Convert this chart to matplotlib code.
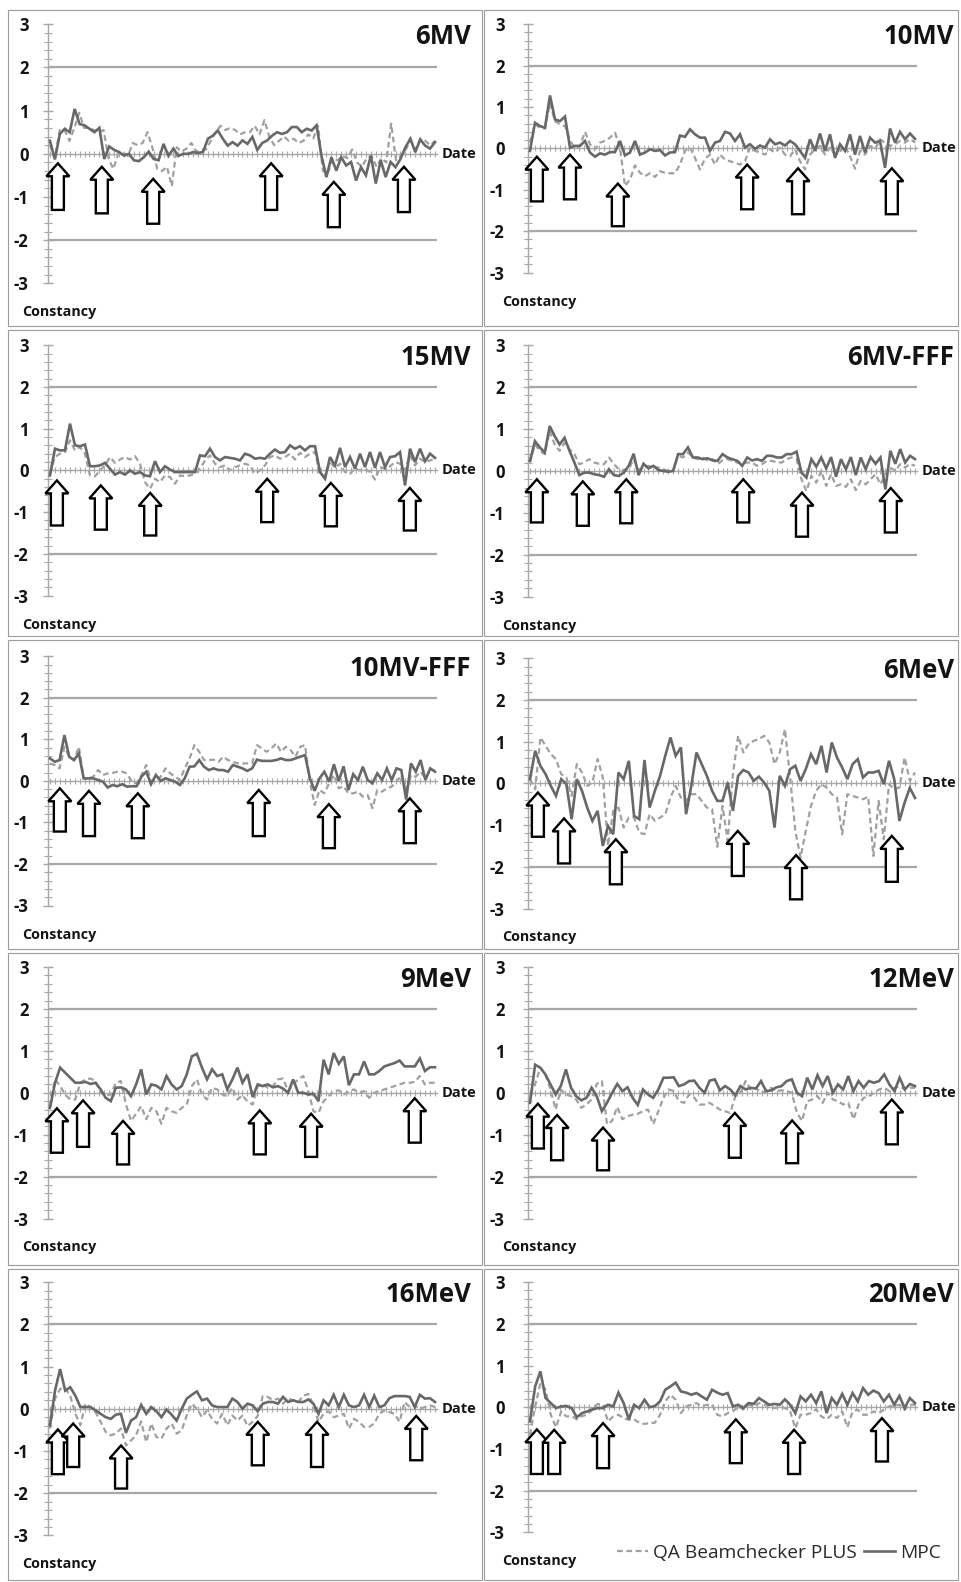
import numpy as np
import matplotlib
matplotlib.use("Agg")
import matplotlib.pyplot as plt
from matplotlib.patches import Polygon, Rectangle
from matplotlib.ticker import MultipleLocator

plt.rcParams['font.family'] = ['Open Sans', 'DejaVu Sans']

# ---------------- data ----------------
titles = ["6MV", "10MV", "15MV", "6MV-FFF", "10MV-FFF", "6MeV", "9MeV", "12MeV", "16MeV", "20MeV"]
legend_labels = ["QA Beamchecker PLUS", "MPC"]
y_ticks = [-3, -2, -1, 0, 1, 2, 3]
limit_lines = [2, -2]
n_dates = 79

mpc_6MV = [0.30, -0.13, 0.46, 0.58, 0.50, 1.04, 0.69, 0.66, 0.58, 0.50, 0.60, -0.12, 0.17, 0.09, 0.04, -0.04, 0.00, -0.15, -0.17, -0.08,
           0.05, -0.12, -0.15, 0.23, -0.05, 0.12, -0.05, 0.00, 0.00, 0.04, 0.02, 0.04, 0.35, 0.42, 0.54, 0.35, 0.19, 0.27, 0.19, 0.31,
           0.23, 0.39, 0.09, 0.25, 0.31, 0.42, 0.50, 0.46, 0.50, 0.62, 0.62, 0.50, 0.58, 0.54, 0.66, -0.05, -0.54, -0.08, -0.39, -0.08,
           -0.27, -0.19, -0.62, -0.31, -0.50, -0.04, -0.69, -0.15, -0.54, -0.19, -0.31, -0.12, 0.15, 0.35, 0.04, 0.33, 0.19, 0.12, 0.27]
qa_6MV = [0.20, -0.10, 0.55, 0.55, 0.30, 0.60, 0.95, 0.60, 0.60, 0.55, 0.50, 0.55, -0.10, -0.35, 0.00, 0.02, -0.05, 0.25, 0.20, 0.25,
          0.50, 0.15, -0.35, -0.40, -0.30, -0.75, 0.15, 0.05, 0.12, 0.25, 0.05, 0.10, 0.10, 0.30, 0.50, 0.65, 0.55, 0.60, 0.55, 0.45,
          0.50, 0.50, 0.65, 0.45, 0.78, 0.40, 0.20, 0.30, 0.40, 0.30, 0.35, 0.25, 0.30, 0.45, 0.35, 0.65, -0.40, -0.45, -0.10, -0.15,
          -0.05, -0.10, 0.10, -0.20, -0.30, -0.10, -0.05, -0.30, -0.10, -0.20, 0.70, -0.15, -0.05, 0.10, 0.30, 0.10, 0.35, 0.30, 0.20, 0.30]

mpc_10MV = [-0.06, 0.62, 0.54, 0.50, 1.28, 0.70, 0.66, 0.77, 0.02, 0.06, 0.06, 0.18, -0.10, -0.20, -0.12, -0.15, -0.09, -0.09, 0.18, -0.17,
            -0.10, 0.18, -0.15, -0.10, -0.02, -0.06, -0.04, -0.17, -0.10, -0.09, 0.31, 0.28, 0.46, 0.34, 0.26, 0.26, -0.06, 0.14, 0.18, 0.40,
            0.36, 0.18, 0.34, 0.02, 0.10, -0.01, 0.07, 0.02, 0.22, 0.10, 0.14, 0.07, 0.18, 0.10, -0.06, -0.23, 0.22, -0.06, 0.36, -0.06,
            0.34, -0.23, 0.10, -0.06, 0.34, -0.15, 0.30, -0.10, 0.26, 0.14, 0.18, -0.47, 0.48, 0.14, 0.40, 0.22, 0.36, 0.23]
qa_10MV = [0.14, 0.58, 0.50, 0.48, 1.10, 0.66, 0.58, 0.54, 0.18, 0.02, 0.06, 0.40, 0.10, -0.02, 0.14, 0.18, 0.26, 0.38, 0.02, -0.91,
           -0.75, -0.41, -0.59, -0.67, -0.60, -0.69, -0.55, -0.59, -0.60, -0.60, -0.39, -0.06, 0.02, -0.23, -0.51, -0.25, -0.15, -0.39, -0.15, -0.27,
           -0.31, -0.35, -0.39, -0.31, 0.02, -0.06, -0.10, -0.15, -0.02, -0.10, 0.02, -0.15, -0.19, -0.02, -0.31, -0.51, -0.15, -0.02, 0.06, -0.15,
           0.02, -0.15, -0.06, 0.06, -0.19, -0.49, -0.06, -0.15, 0.06, -0.02, 0.22, 0.14, 0.06, 0.10, 0.18, 0.14, 0.23, 0.14]

mpc_15MV = [-0.12, 0.52, 0.48, 0.48, 1.12, 0.60, 0.58, 0.62, 0.10, 0.10, 0.12, 0.18, 0.04, -0.10, -0.04, -0.10, 0.00, -0.08, -0.04, -0.12,
            -0.14, 0.22, -0.04, 0.10, 0.02, -0.04, -0.04, -0.04, -0.04, -0.04, 0.36, 0.34, 0.52, 0.32, 0.24, 0.32, 0.30, 0.28, 0.24, 0.40,
            0.36, 0.28, 0.30, 0.28, 0.40, 0.50, 0.42, 0.44, 0.60, 0.52, 0.58, 0.48, 0.58, 0.58, -0.04, -0.20, 0.32, 0.12, 0.54, 0.08,
            0.32, 0.04, 0.40, 0.08, 0.44, 0.06, 0.44, 0.08, 0.32, 0.34, 0.44, -0.36, 0.52, 0.20, 0.52, 0.22, 0.40, 0.30]
qa_15MV = [-0.08, 0.32, 0.40, 0.44, 0.72, 0.48, 0.56, 0.40, -0.12, -0.14, 0.00, 0.12, 0.32, 0.18, 0.26, 0.32, 0.26, 0.34, 0.16, -0.28,
           -0.44, -0.20, -0.28, -0.12, -0.16, -0.32, -0.12, -0.14, -0.12, -0.08, 0.04, 0.24, 0.36, 0.16, 0.08, 0.12, 0.00, 0.08, 0.12, 0.16,
           0.12, -0.08, 0.00, 0.12, 0.32, 0.36, 0.28, 0.32, 0.40, 0.26, 0.42, 0.32, 0.40, 0.44, -0.10, -0.14, 0.20, 0.06, 0.16, -0.04,
           -0.08, 0.04, 0.00, 0.04, -0.04, -0.22, 0.08, 0.04, 0.10, 0.20, 0.16, 0.00, 0.36, 0.12, 0.28, 0.20, 0.24, 0.28]

mpc_6MVFFF = [0.24, 0.71, 0.56, 0.44, 1.07, 0.83, 0.63, 0.79, 0.48, 0.20, -0.10, -0.04, -0.04, -0.08, -0.10, -0.14, 0.04, -0.10, -0.12, -0.04,
              0.12, 0.41, -0.10, 0.17, 0.06, 0.12, 0.02, 0.00, -0.02, 0.00, 0.40, 0.40, 0.56, 0.32, 0.32, 0.28, 0.30, 0.25, 0.24, 0.40,
              0.32, 0.28, 0.24, 0.12, 0.32, 0.25, 0.28, 0.24, 0.36, 0.36, 0.32, 0.32, 0.40, 0.40, 0.46, -0.04, -0.16, 0.28, 0.10, 0.32,
              0.06, 0.33, -0.14, 0.28, 0.04, 0.33, -0.10, 0.32, 0.04, 0.33, 0.17, 0.32, -0.44, 0.48, 0.17, 0.52, 0.20, 0.36, 0.28]
qa_6MVFFF = [0.20, 0.63, 0.48, 0.40, 0.95, 0.63, 0.48, 0.67, 0.52, 0.40, 0.16, 0.20, 0.28, 0.20, 0.17, 0.16, 0.32, 0.16, 0.04, 0.02,
             0.04, 0.28, 0.02, 0.08, 0.12, 0.10, 0.08, 0.04, 0.00, 0.00, 0.36, 0.32, 0.44, 0.32, 0.28, 0.32, 0.25, 0.28, 0.16, 0.25,
             0.28, 0.24, 0.20, 0.17, 0.20, 0.20, 0.12, 0.16, 0.24, 0.24, 0.20, 0.20, 0.28, 0.32, 0.28, -0.20, -0.48, -0.12, -0.28, 0.00,
             -0.36, -0.08, -0.36, -0.32, -0.38, -0.20, -0.46, -0.24, -0.32, -0.20, -0.08, -0.32, -0.08, 0.08, 0.00, 0.16, 0.08, 0.17, 0.12]

mpc_10MVFFF = [0.54, 0.46, 0.50, 1.10, 0.58, 0.50, 0.66, 0.06, 0.06, 0.06, 0.02, -0.02, -0.16, -0.10, -0.13, -0.08, -0.14, -0.13, -0.13, 0.10,
               0.22, -0.08, 0.14, 0.00, 0.06, 0.02, -0.02, -0.10, 0.06, 0.34, 0.35, 0.50, 0.34, 0.26, 0.30, 0.26, 0.26, 0.22, 0.38, 0.34,
               0.30, 0.24, 0.30, 0.51, 0.48, 0.48, 0.48, 0.50, 0.54, 0.50, 0.50, 0.54, 0.58, 0.62, 0.06, -0.24, 0.06, 0.22, -0.02, 0.40,
               0.00, 0.35, -0.22, 0.16, 0.02, 0.34, 0.02, -0.06, 0.18, 0.02, 0.30, 0.02, 0.30, 0.26, -0.45, 0.42, 0.22, 0.50, 0.02, 0.30, 0.22]
qa_10MVFFF = [0.42, 0.38, 0.30, 0.82, 0.58, 0.50, 0.82, 0.06, 0.06, 0.10, 0.26, 0.14, 0.18, 0.19, 0.22, 0.22, 0.18, -0.02, -0.06, 0.14,
              0.38, -0.02, 0.02, 0.10, 0.30, 0.18, 0.10, 0.02, 0.30, 0.54, 0.86, 0.70, 0.50, 0.50, 0.51, 0.46, 0.58, 0.50, 0.46, 0.42,
              0.42, 0.42, 0.42, 0.86, 0.78, 0.70, 0.78, 0.90, 0.70, 0.82, 0.74, 0.58, 0.82, 0.86, -0.02, -0.58, -0.22, -0.30, -0.06, 0.14,
              -0.18, -0.13, -0.30, -0.30, -0.26, -0.38, -0.34, -0.66, -0.22, -0.26, -0.18, -0.14, -0.02, 0.14, -0.26, 0.14, 0.10, 0.22, 0.06, 0.26, 0.26]

mpc_6MeV = [0.10, 0.78, 0.42, 0.22, -0.06, -0.30, 0.10, -0.02, -0.86, 0.10, -0.18, -0.58, -0.90, -0.66, -1.50, -1.02, -1.22, 0.26, 0.10, 0.54,
            -0.78, -0.86, 0.56, -0.58, -0.18, 0.18, 0.66, 1.10, 0.66, 0.86, -0.74, -0.06, 0.74, 0.46, 0.18, -0.18, -0.42, -0.42, 0.02, -0.66,
            0.18, 0.32, 0.26, 0.06, 0.16, 0.02, -0.18, -1.06, 0.18, -0.06, 0.34, 0.42, 0.06, 0.34, 0.70, 0.46, 0.90, 0.26, 0.98, 0.62,
            0.38, 0.10, 0.46, 0.58, 0.14, 0.26, 0.26, 0.30, -0.02, 0.54, 0.10, -0.90, -0.46, -0.11, -0.35]
qa_6MeV = [0.10, -0.14, 1.10, 0.90, 0.70, 0.58, 0.22, 0.14, -0.30, 0.46, 0.26, -0.06, 0.02, 0.58, 0.14, -1.50, -0.66, -0.58, -1.06, -0.82,
           -0.82, -1.18, -1.22, -0.74, -0.90, -0.82, -0.74, -0.34, -0.06, -0.34, -0.42, -0.26, -0.26, -0.42, -0.58, -0.62, -1.52, -0.54, -1.38, 0.22,
           1.14, 0.74, 0.94, 1.02, 1.06, 1.14, 0.98, 0.46, 0.74, 1.30, 0.14, -1.14, -1.78, -1.14, -0.54, -0.18, -0.02, -0.10, -0.26, -0.34,
           -1.22, -0.26, -0.30, -0.34, -0.38, -0.32, -1.74, -0.42, -1.34, -0.02, -0.14, -0.10, 0.62, 0.06, 0.26]

mpc_9MeV = [-0.36, 0.24, 0.60, 0.48, 0.36, 0.24, 0.24, 0.26, 0.21, 0.24, 0.08, -0.12, -0.20, 0.12, 0.13, 0.08, -0.08, 0.20, 0.56, -0.04,
            0.20, 0.17, 0.08, 0.40, 0.20, 0.08, 0.16, 0.44, 0.87, 0.93, 0.60, 0.32, 0.56, 0.40, 0.44, 0.08, 0.32, 0.60, 0.24, 0.44,
            -0.10, 0.20, 0.16, 0.20, 0.13, 0.16, 0.10, 0.00, 0.32, 0.00, 0.00, -0.04, -0.02, -0.20, 0.79, 0.44, 0.95, 0.69, 0.87, 0.18,
            0.44, 0.44, 0.75, 0.44, 0.44, 0.52, 0.63, 0.67, 0.71, 0.77, 0.63, 0.63, 0.63, 0.82, 0.52, 0.61, 0.61]
qa_9MeV = [-0.32, 0.32, 0.16, -0.04, -0.16, -0.16, 0.24, 0.32, 0.34, 0.28, 0.00, -0.06, -0.04, 0.24, 0.28, -0.28, -0.67, -0.50, -0.32, -0.63,
           -0.36, -0.44, -0.74, -0.36, -0.44, -0.48, -0.36, -0.28, 0.16, 0.32, -0.04, -0.16, 0.12, 0.08, -0.04, -0.08, 0.12, -0.16, -0.06, -0.21,
           -0.28, 0.16, 0.20, 0.12, 0.16, 0.32, 0.34, 0.04, 0.20, 0.32, 0.40, 0.04, -0.44, -0.48, -0.20, -0.08, 0.04, 0.06, -0.04, 0.04,
           0.08, 0.00, 0.04, -0.12, 0.00, 0.04, 0.08, 0.12, 0.16, 0.20, 0.24, 0.24, 0.26, 0.40, 0.20, 0.24, 0.24]

mpc_12MeV = [-0.24, 0.67, 0.60, 0.44, 0.20, -0.04, 0.16, 0.56, 0.12, -0.08, -0.18, -0.12, 0.12, -0.08, -0.44, -0.24, 0.00, 0.21, 0.04, 0.13,
             -0.12, -0.29, 0.08, -0.04, -0.12, 0.08, 0.36, 0.36, 0.37, 0.16, 0.20, 0.28, 0.29, 0.12, 0.00, 0.29, 0.32, 0.06, 0.16, 0.08,
             -0.06, 0.16, 0.08, 0.12, 0.10, 0.28, 0.04, 0.06, 0.13, 0.16, 0.28, 0.32, 0.00, -0.08, 0.36, 0.08, 0.42, 0.16, 0.40, 0.00,
             0.20, 0.08, 0.40, 0.04, 0.28, 0.12, 0.28, 0.24, 0.28, 0.44, 0.20, 0.04, 0.36, 0.08, 0.21, 0.16]
qa_12MeV = [-0.04, 0.20, 0.60, 0.44, 0.08, -0.40, 0.08, -0.04, -0.08, -0.16, -0.36, -0.28, -0.16, 0.21, 0.28, -0.75, -0.67, -0.34, -0.63, -0.56,
            -0.52, -0.50, -0.44, -0.40, -0.75, -0.44, -0.12, 0.08, 0.04, -0.20, -0.24, -0.04, -0.12, -0.28, -0.28, -0.24, -0.32, -0.40, -0.44, -0.48,
            -0.08, 0.00, 0.28, 0.08, 0.12, 0.00, 0.04, 0.12, 0.04, 0.06, 0.04, 0.00, -0.48, -0.67, -0.20, -0.16, -0.08, -0.24, 0.00, -0.16,
            -0.20, -0.28, -0.24, -0.63, -0.28, -0.12, -0.08, 0.00, 0.08, 0.12, 0.04, 0.12, 0.16, 0.08, 0.12, 0.12]

mpc_16MeV = [-0.39, 0.43, 0.94, 0.43, 0.51, 0.31, 0.04, 0.04, 0.04, -0.04, -0.12, -0.20, -0.24, -0.14, -0.12, -0.57, -0.28, -0.20, 0.09, -0.12,
             0.04, -0.06, -0.20, -0.02, -0.14, -0.28, 0.00, 0.24, 0.33, 0.41, 0.20, 0.24, 0.08, 0.04, 0.04, 0.04, 0.24, 0.16, 0.00, 0.12,
             0.08, -0.06, 0.12, 0.16, 0.16, 0.12, 0.28, 0.16, 0.20, 0.16, 0.16, 0.22, 0.12, -0.12, 0.20, 0.08, 0.33, 0.04, 0.33, 0.08,
             0.04, 0.08, 0.33, 0.04, 0.31, 0.04, 0.08, 0.25, 0.30, 0.30, 0.30, 0.28, 0.04, 0.33, 0.24, 0.25, 0.16]
qa_16MeV = [-0.47, 0.24, 0.47, 0.49, 0.31, -0.12, -0.39, 0.12, 0.04, -0.08, -0.31, -0.55, -0.63, -0.59, -0.47, -0.87, -0.75, -0.63, -0.30, -0.79,
            -0.35, -0.67, -0.71, -0.47, -0.35, -0.59, -0.51, -0.16, 0.12, 0.00, -0.20, -0.04, -0.24, -0.35, -0.12, -0.39, -0.16, -0.28, -0.16, -0.41,
            -0.31, -0.17, 0.30, 0.28, 0.20, 0.24, 0.12, 0.24, 0.20, 0.16, 0.31, 0.35, 0.08, -0.31, -0.12, -0.06, -0.20, -0.16, -0.12, -0.47,
            -0.24, -0.31, -0.43, -0.43, -0.35, -0.12, -0.04, -0.08, -0.12, -0.31, 0.16, 0.04, 0.08, 0.00, 0.04, 0.08, 0.04]

mpc_20MeV = [-0.34, 0.50, 0.86, 0.22, 0.10, -0.02, 0.02, 0.03, -0.02, -0.24, -0.14, -0.10, -0.05, -0.02, -0.02, 0.06, 0.02, 0.35, 0.10, -0.29,
             0.06, -0.02, 0.18, 0.00, 0.03, 0.14, 0.42, 0.50, 0.59, 0.38, 0.35, 0.30, 0.34, 0.26, 0.18, 0.42, 0.35, 0.30, 0.34, 0.02,
             0.06, -0.02, 0.10, 0.08, 0.22, 0.14, 0.06, 0.08, 0.06, 0.19, 0.06, -0.14, 0.26, 0.14, 0.30, 0.10, 0.38, -0.14, 0.22, 0.06,
             0.32, 0.06, 0.34, 0.14, 0.46, 0.30, 0.40, 0.34, 0.14, 0.30, 0.06, 0.27, -0.02, 0.22, 0.10]
qa_20MeV = [-0.66, 0.02, 0.58, 0.42, -0.18, -0.48, -0.10, -0.22, -0.21, -0.29, -0.21, -0.18, -0.06, 0.08, 0.06, -0.34, -0.22, -0.18, -0.26, -0.30,
            -0.29, -0.37, -0.40, -0.38, -0.37, -0.18, 0.14, 0.30, 0.18, -0.14, 0.02, 0.06, 0.10, 0.02, 0.06, 0.06, -0.18, -0.22, -0.14, -0.10,
            0.02, -0.05, 0.06, 0.02, 0.10, 0.06, 0.03, -0.02, 0.02, -0.02, -0.10, -0.50, -0.18, -0.18, -0.14, -0.05, -0.22, -0.29, -0.18, -0.26,
            -0.10, -0.48, -0.10, -0.06, -0.18, -0.18, -0.10, -0.14, -0.06, 0.02, 0.03, 0.06, -0.06, 0.06, 0.06]

mpc_series = [mpc_6MV, mpc_10MV, mpc_15MV, mpc_6MVFFF, mpc_10MVFFF, mpc_6MeV, mpc_9MeV, mpc_12MeV, mpc_16MeV, mpc_20MeV]
qa_series = [qa_6MV, qa_10MV, qa_15MV, qa_6MVFFF, qa_10MVFFF, qa_6MeV, qa_9MeV, qa_12MeV, qa_16MeV, qa_20MeV]

# arrow markers: date position, tip value, tail value
arrow_x = [
    [1.6, 10.5, 20.9, 44.8, 57.5, 71.7],
    [1.4, 8.1, 17.8, 44.0, 54.3, 73.3],
    [1.4, 10.3, 20.3, 44.0, 56.9, 72.9],
    [1.4, 10.7, 19.5, 43.2, 55.1, 73.1],
    [2.0, 7.9, 17.8, 42.3, 56.5, 72.9],
    [1.6, 6.9, 17.4, 42.1, 53.9, 73.3],
    [1.4, 6.7, 14.8, 42.5, 52.9, 73.9],
    [1.6, 5.5, 14.8, 41.5, 53.1, 73.3],
    [1.6, 4.7, 14.4, 42.1, 54.1, 74.2],
    [1.4, 4.9, 14.8, 41.7, 53.5, 71.3],
]
arrow_tip = [
    [-0.22, -0.30, -0.58, -0.22, -0.65, -0.30],
    [-0.20, -0.15, -0.85, -0.39, -0.48, -0.48],
    [-0.24, -0.36, -0.54, -0.20, -0.30, -0.42],
    [-0.20, -0.25, -0.20, -0.20, -0.52, -0.41],
    [-0.18, -0.24, -0.30, -0.22, -0.56, -0.42],
    [-0.22, -0.84, -1.34, -1.14, -1.72, -1.26],
    [-0.37, -0.18, -0.67, -0.42, -0.50, -0.13],
    [-0.26, -0.53, -0.83, -0.48, -0.66, -0.16],
    [-0.49, -0.35, -0.87, -0.31, -0.31, -0.17],
    [-0.53, -0.54, -0.38, -0.29, -0.54, -0.26],
]
arrow_tail = [
    [-1.30, -1.38, -1.62, -1.30, -1.70, -1.35],
    [-1.28, -1.23, -1.88, -1.47, -1.59, -1.59],
    [-1.32, -1.42, -1.56, -1.24, -1.34, -1.44],
    [-1.23, -1.31, -1.25, -1.23, -1.57, -1.47],
    [-1.22, -1.33, -1.38, -1.33, -1.62, -1.50],
    [-1.28, -1.92, -2.42, -2.22, -2.78, -2.36],
    [-1.43, -1.29, -1.71, -1.47, -1.53, -1.19],
    [-1.33, -1.61, -1.85, -1.55, -1.68, -1.23],
    [-1.55, -1.38, -1.89, -1.34, -1.38, -1.22],
    [-1.60, -1.60, -1.46, -1.34, -1.60, -1.30],
]

# ---------------- layout (pixels) ----------------
W, H = 961, 1582
col_axis_x = [48, 528]
ax_w = 389
ax_top = [24.3, 24.2, 345.2, 345.2, 656.2, 658.2, 967.1, 967.1, 1282.1, 1282.1]
ax_bot = [283.3, 272.6, 595.6, 596.6, 905.5, 908.5, 1218.5, 1218.5, 1535.4, 1532.4]
title_right = [471, 954]
date_left = [442, 922]
const_left = [22, 502]
tick_pad = [10.5, 13.5]
box_x = [(8, 482), (484, 958)]
box_y = [(10, 326), (330, 636), (640, 949), (953, 1265), (1269, 1580)]

C_MPC = '#686868'
C_QA = '#a0a0a0'
C_AXIS = '#a8a8a8'
C_TEXT = '#141414'

fig = plt.figure(figsize=(W / 100, H / 100), dpi=100)
fig.patch.set_facecolor('white')


def fx(px):
    return px / W


def fy(py):
    return 1 - py / H


# panel borders
for (y0, y1) in box_y:
    for (x0, x1) in box_x:
        fig.add_artist(Rectangle((fx(x0), fy(y1)), (x1 - x0) / W, (y1 - y0) / H,
                                 transform=fig.transFigure, fill=False,
                                 ec='#9c9c9c', lw=0.8))

line_qa = line_mpc = None
for i, title in enumerate(titles):
    col = i % 2
    top, bot = ax_top[i], ax_bot[i]
    ax = fig.add_axes([fx(col_axis_x[col]), fy(bot), ax_w / W, (bot - top) / H])
    ax.patch.set_visible(False)
    ax.set_xlim(-0.4, n_dates - 1 + 0.4)
    ax.set_ylim(y_ticks[0], y_ticks[-1])

    for v in limit_lines:
        ax.axhline(v, color=C_AXIS, lw=1.6, zorder=1)

    qa = qa_series[i]
    mpc = mpc_series[i]
    lq, = ax.plot(np.linspace(0, n_dates - 1, len(qa)), qa, color=C_QA, lw=1.6,
                  ls=(0, (2.6, 1.6)), zorder=2)
    lm, = ax.plot(np.linspace(0, n_dates - 1, len(mpc)), mpc, color=C_MPC, lw=1.9,
                  zorder=3, solid_joinstyle='miter')
    line_qa, line_mpc = lq, lm

    # hollow up arrows
    px_per_x = ax_w / (n_dates - 1 + 0.8)
    px_per_y = (bot - top) / 6.0
    hw = 11.5 / px_per_x
    sw = 6.0 / px_per_x
    hl = 13.0 / px_per_y
    for xa, ta, ba in zip(arrow_x[i], arrow_tip[i], arrow_tail[i]):
        verts = [(xa - sw, ba), (xa + sw, ba), (xa + sw, ta - hl), (xa + hw, ta - hl),
                 (xa, ta), (xa - hw, ta - hl), (xa - sw, ta - hl)]
        ax.add_patch(Polygon(verts, closed=True, fc='white', ec='black', lw=1.7,
                             joinstyle='miter', zorder=5, clip_on=False))

    # axes styling
    for s in ['top', 'right']:
        ax.spines[s].set_visible(False)
    ax.spines['left'].set_color(C_AXIS)
    ax.spines['left'].set_linewidth(1.0)
    ax.spines['bottom'].set_position(('data', 0))
    ax.spines['bottom'].set_color(C_AXIS)
    ax.spines['bottom'].set_linewidth(1.0)

    ax.set_yticks(y_ticks)
    ax.set_yticklabels([str(t) for t in y_ticks], fontsize=12, fontweight='bold', color=C_TEXT)
    ax.yaxis.set_minor_locator(MultipleLocator(0.2))
    ax.tick_params(axis='y', which='major', direction='inout', length=7, width=1.0,
                   color=C_AXIS, pad=tick_pad[col])
    ax.tick_params(axis='y', which='minor', direction='inout', length=6, width=0.8, color=C_AXIS)
    ax.set_xticks([])
    ax.set_xticks(np.arange(n_dates), minor=True)
    ax.tick_params(axis='x', which='minor', direction='inout', length=5, width=0.8,
                   color=C_AXIS, labelbottom=False)

    # texts
    zero_py = (top + bot) / 2
    fig.text(fx(title_right[col]), fy(top + 12), title, ha='right', va='center',
             fontsize=18.5, fontweight='bold', color=C_TEXT)
    fig.text(fx(date_left[col]), fy(zero_py), 'Date', ha='left', va='center',
             fontsize=10.5, fontweight='bold', color=C_TEXT)
    fig.text(fx(const_left[col]), fy(bot + 29), 'Constancy', ha='left', va='center',
             fontsize=10.3, fontweight='bold', color=C_TEXT)

fig.legend([line_qa, line_mpc], legend_labels, loc='center',
           bbox_to_anchor=(fx(779), fy(1553)), ncol=2, frameon=False,
           fontsize=13.8, handlelength=1.6, handletextpad=0.25, columnspacing=0.4,
           labelcolor='#2a2a2a')

fig.savefig('out.png', dpi=100, facecolor='white')
